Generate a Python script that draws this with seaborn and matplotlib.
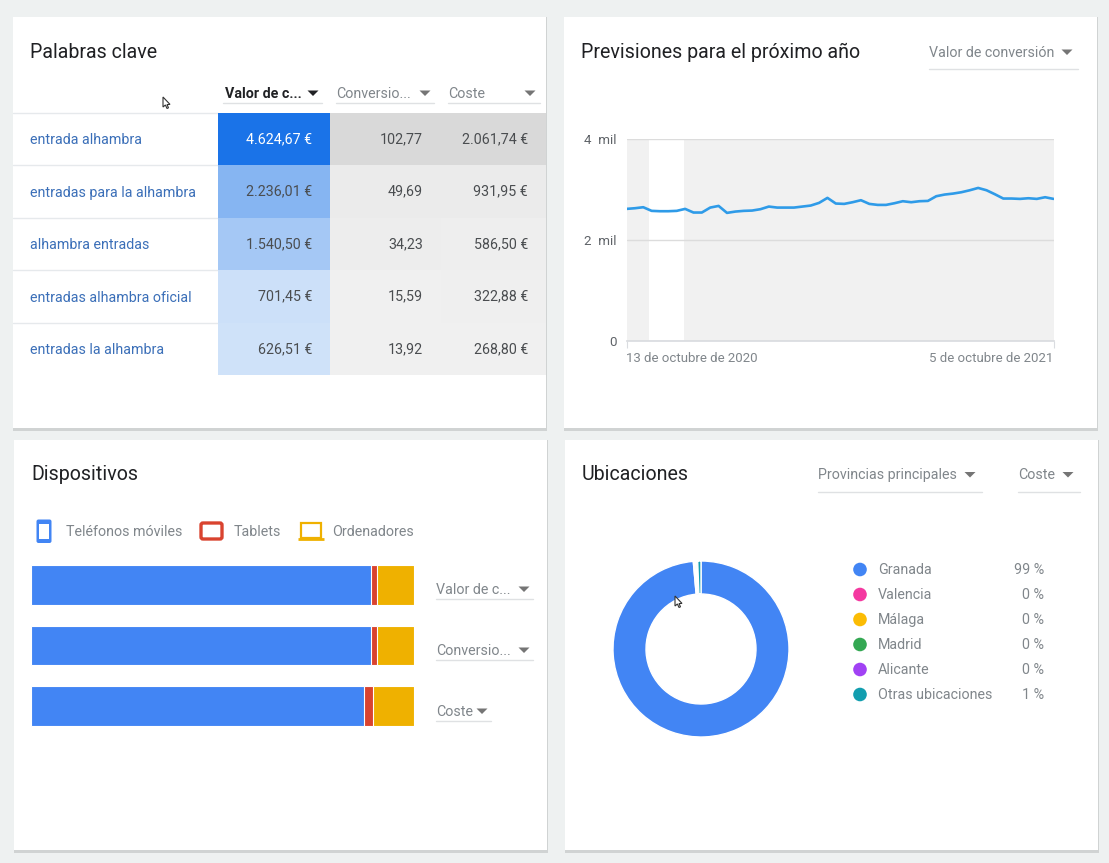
import matplotlib
matplotlib.use("Agg")
import matplotlib.pyplot as plt
from matplotlib.colors import LinearSegmentedColormap, PowerNorm
from matplotlib.patches import Rectangle, FancyBboxPatch, Polygon, Circle
import numpy as np
import pandas as pd
import seaborn as sns

W, H = 1109, 863

# keywords table
keywords = ["entrada alhambra", "entradas para la alhambra", "alhambra entradas",
            "entradas alhambra oficial", "entradas la alhambra"]
valor = [4624.67, 2236.01, 1540.50, 701.45, 626.51]
conversiones = [102.77, 49.69, 34.23, 15.59, 13.92]
coste = [2061.74, 931.95, 586.50, 322.88, 268.80]
valor_labels = ["4.624,67 €", "2.236,01 €", "1.540,50 €", "701,45 €", "626,51 €"]
conv_labels = ["102,77", "49,69", "34,23", "15,59", "13,92"]
coste_labels = ["2.061,74 €", "931,95 €", "586,50 €", "322,88 €", "268,80 €"]

# forecast, one point a week
forecast = [2616, 2629, 2649, 2577, 2570, 2570, 2577, 2616, 2544, 2544, 2642, 2675, 2537,
            2563, 2577, 2583, 2610, 2662, 2642, 2642, 2642, 2662, 2682, 2735, 2834, 2722,
            2715, 2748, 2788, 2715, 2695, 2695, 2728, 2768, 2748, 2768, 2774, 2867, 2900,
            2919, 2946, 2985, 3031, 2985, 2906, 2821, 2821, 2814, 2827, 2814, 2847, 2814]

# devices, share in %
device_metrics = ["Valor de conversión", "Conversiones", "Coste"]
moviles = [89.0, 89.0, 87.1]
tablets = [1.6, 1.6, 2.4]
ordenadores = [9.4, 9.4, 10.5]

# locations
provincias = ["Granada", "Valencia", "Málaga", "Madrid", "Alicante", "Otras ubicaciones"]
provincia_share = [98.6, 0.2, 0.2, 0.2, 0.2, 0.6]
provincia_labels = ["99 %", "0 %", "0 %", "0 %", "0 %", "1 %"]
provincia_colors = ["#4285f4", "#f439a0", "#fbbc04", "#34a853", "#a142f4", "#129eaf"]

sns.set_theme(style="white")
plt.rcParams["font.family"] = ["Roboto", "DejaVu Sans"]

GREY = "#80868b"
LINK = "#3b6fb8"
BLUE = "#4285f4"
RED = "#d9432f"
YELLOW = "#efb100"
BODY = 10.25

fig = plt.figure(figsize=(W / 100, H / 100), dpi=100, facecolor="#eef1f1")


def px_axes(l, t, r, b, z=1):
    ax = fig.add_axes([l / W, 1 - b / H, (r - l) / W, (b - t) / H], zorder=z)
    ax.patch.set_alpha(0)
    return ax


def layer(z):
    ax = px_axes(0, 0, W, H, z)
    ax.set_xlim(0, W)
    ax.set_ylim(H, 0)
    ax.axis("off")
    return ax


bg = layer(0)
top = layer(5)

# cards
for l, t, r, b in [(13, 17, 546, 428), (564, 17, 1097, 428), (14, 440, 547, 850), (565, 440, 1098, 850)]:
    bg.add_patch(Rectangle((l - 0.5, t), r - l + 1, b - t + 2.5, fc="#d0d3d3", ec="none"))
    bg.add_patch(Rectangle((l, t), r - l, b - t, fc="white", ec="none"))


def dropdown(label, x, y, tri_x, end_x, bold=False, line_dy=10):
    color = "#202124" if bold else GREY
    top.text(x, y + 0.8, label, fontsize=BODY, color=color, va="center",
             fontweight="bold" if bold else "normal")
    top.add_patch(Polygon([(tri_x - 5.5, y - 2.5), (tri_x + 5.5, y - 2.5), (tri_x, y + 3)],
                          fc="#202124" if bold else "#757575", ec="none"))
    top.plot([x - 2 if bold else x, end_x], [y + line_dy, y + line_dy], color="#dfe1e3", lw=1)


for label, x, y in [("Palabras clave", 30, 51), ("Previsiones para el próximo año", 581, 51),
                    ("Dispositivos", 31, 473), ("Ubicaciones", 582, 473)]:
    top.text(x, y + 1, label, fontsize=14.15, color="#202124", va="center")

# --- Palabras clave ---
dropdown("Valor de c...", 225, 93, 313, 322, bold=True)
dropdown("Conversio...", 336, 93, 425, 434)
dropdown("Coste", 448, 93, 530, 540)

rows = np.arange(len(keywords))
for i, name in zip(rows, keywords):
    top.text(30, 140 + 52.5 * i, name, fontsize=BODY, color=LINK, va="center")
for y in [113, 165.5, 218, 270.5, 323]:
    bg.plot([13, 218], [y, y], color="#e6e9ec", lw=1)

table = pd.DataFrame({
    "valor": np.array(valor) / max(valor),
    "conversiones": np.array(conversiones) / max(conversiones),
    "coste": np.array(coste) / max(coste),
}, index=keywords)
cell_labels = np.array([valor_labels, conv_labels, coste_labels]).T

blues = LinearSegmentedColormap.from_list("blues_card", ["#ebf3fc", "#1a73e8"])
greys = LinearSegmentedColormap.from_list("greys_card", ["#f0f0f0", "#d9d9d9"])
mask_blue = np.zeros(table.shape, dtype=bool)
mask_blue[:, 1:] = True

# columns are 111.5 px wide, the last one is cut at the card edge
ax = px_axes(218, 113, 546, 375)
sns.heatmap(table, mask=mask_blue, cmap=blues, vmin=0, vmax=1, cbar=False, annot=cell_labels,
            fmt="", annot_kws={"fontsize": BODY}, ax=ax)
sns.heatmap(table, mask=~mask_blue, cmap=greys, norm=PowerNorm(2, vmin=0, vmax=1), cbar=False,
            annot=cell_labels, fmt="", annot_kws={"fontsize": BODY}, ax=ax)
ax.set(xticks=[], yticks=[], xlabel="", ylabel="")
ax.set_xlim(0, 328 / 111.5)
right_edge = [0.843, 1.84, 2.78]
for t in ax.texts:
    x, y = t.get_position()
    t.set_position((right_edge[int(x)], y))
    t.set_ha("right")
    t.set_color("#4a4d50")
ax.texts[0].set_color("white")

# --- Previsiones ---
dropdown("Valor de conversión", 929, 52, 1067, 1078, line_dy=17)

dates = pd.date_range("2020-10-13", periods=len(forecast), freq="7D")
ax = px_axes(626.5, 139, 1053.5, 341)
ax.set_facecolor("#f1f1f1")
ax.patch.set_alpha(1)
ax.axvspan(pd.Timestamp("2020-11-01"), pd.Timestamp("2020-11-30"), color="white", lw=0, zorder=0)
sns.lineplot(x=dates, y=forecast, color="#2f9be8", lw=1.9, ax=ax, zorder=3)
ax.set_xlim(dates[0], dates[-1])
ax.set_ylim(0, 4000)
ax.set_yticks([0, 2000, 4000], ["0", "2  mil", "4  mil"], fontsize=9.6, color="#5f6368")
ax.set_xticks([dates[0], dates[-1]], ["13 de octubre de 2020", "5 de octubre de 2021"],
              fontsize=9.5, color=GREY)
ax.get_xticklabels()[0].set_ha("left")
ax.get_xticklabels()[1].set_ha("right")
ax.tick_params(axis="y", length=0, pad=7)
ax.tick_params(axis="x", length=5, width=0.8, color="#dadce0", pad=3, bottom=True)
ax.grid(axis="y", color="#dcdcdc", lw=1)
ax.set_axisbelow(True)
ax.set(xlabel="", ylabel="")
sns.despine(ax=ax, left=True, right=True, top=True)
ax.spines["bottom"].set_color("#dadce0")

# --- Dispositivos ---
# phone icon
top.add_patch(FancyBboxPatch((36.5, 519.5), 15, 23.5, boxstyle="round,pad=0,rounding_size=2", fc=BLUE, ec="none"))
top.add_patch(Rectangle((39, 523.5), 10, 15.5, fc="white", ec="none"))
# tablet icon
top.add_patch(FancyBboxPatch((201, 523), 21, 16, boxstyle="round,pad=0,rounding_size=2", fc="white", ec=RED, lw=2.4))
# laptop icon
top.add_patch(Rectangle((301, 523), 20, 14.5, fc="white", ec=YELLOW, lw=1.6))
top.plot([298, 324], [538.5, 538.5], color=YELLOW, lw=2, solid_capstyle="butt")
for label, x in [("Teléfonos móviles", 66), ("Tablets", 234), ("Ordenadores", 332)]:
    top.text(x, 532, label, fontsize=BODY, color=GREY, va="center")

share = pd.DataFrame({"metric": device_metrics, "moviles": moviles, "tablets": tablets,
                      "ordenadores": ordenadores})
share["hasta_tablets"] = share["moviles"] + share["tablets"]
share["total"] = share["hasta_tablets"] + share["ordenadores"]

ax = px_axes(30.5, 555, 413.5, 736)
# stacked by drawing the running totals back to front
for col, color in [("total", YELLOW), ("hasta_tablets", RED), ("moviles", BLUE)]:
    sns.barplot(data=share, x=col, y="metric", color=color, width=0.655, saturation=1,
                edgecolor="white", linewidth=0.8, ax=ax)
ax.set_xlim(0, 100)
ax.axis("off")

dropdown("Valor de c...", 436, 589, 524, 533)
dropdown("Conversio...", 436, 650, 524, 533)
dropdown("Coste", 436, 711, 482, 491)

# --- Ubicaciones ---
dropdown("Provincias principales", 818, 474.5, 970, 982, line_dy=17)
dropdown("Coste", 1018, 474.5, 1068, 1080, line_dy=17)

ax = px_axes(611, 559, 791, 739)
ax.pie(provincia_share, colors=sns.color_palette(provincia_colors), startangle=90, counterclock=False,
       radius=1, wedgeprops={"width": 33 / 88, "edgecolor": "white", "linewidth": 1})
ax.set_xlim(-90 / 88, 90 / 88)
ax.set_ylim(-90 / 88, 90 / 88)

for i, (name, pct, color) in enumerate(zip(provincias, provincia_labels, provincia_colors)):
    y = 569.5 + 25 * i
    top.add_patch(Circle((860, y), 6.8, fc=color, ec="none"))
    top.text(878, y + 0.8, name, fontsize=BODY, color=GREY, va="center")
    top.text(1044, y + 0.8, pct, fontsize=BODY, color=GREY, va="center", ha="right")

# mouse cursors in the screenshot
arrow = np.array([(0, 0), (0, 10), (2.4, 8), (4, 11.5), (5.5, 10.8), (4, 7.6), (7, 7.4)])
for cx, cy in [(163, 97), (675, 596)]:
    top.add_patch(Polygon(arrow + (cx, cy), fc="white", ec="#333333", lw=0.8))

fig.savefig("out.png", dpi=100, facecolor=fig.get_facecolor())
